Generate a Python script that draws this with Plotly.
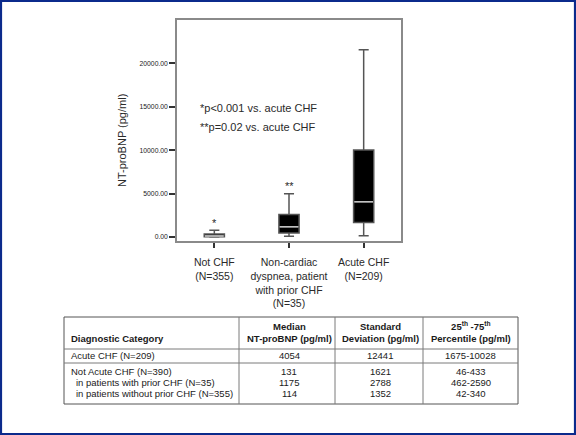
import plotly.graph_objects as go

# ---- box plot data (pg/ml) ----
groups = ["Not CHF<br>(N=355)",
          "Non-cardiac<br>dyspnea, patient<br>with prior CHF<br>(N=35)",
          "Acute CHF<br>(N=209)"]
q1 = [42, 462, 1675]
median = [114, 1175, 4054]
q3 = [340, 2590, 10028]
lower_whisker = [0, 80, 150]
upper_whisker = [770, 4990, 21550]
sig_marks = ["*", "**", ""]
sig_mark_y = [1650, 5870, None]

y_ticks = [0, 5000, 10000, 15000, 20000]

# ---- summary table ----
table_header = ["<b>Diagnostic Category</b>",
                "<b>Median</b><br><b>NT-proBNP (pg/ml)</b>",
                "<b>Standard</b><br><b>Deviation (pg/ml)</b>",
                "<b>25<sup>th</sup> -75<sup>th</sup></b><br><b>Percentile (pg/ml)</b>"]
table_categories = ["Acute CHF (N=209)",
                    "Not Acute CHF (N=390)",
                    "  in patients with prior CHF (N=35)",
                    "  in patients without prior CHF (N=355)"]
table_median = ["4054", "131", "1175", "114"]
table_sd = ["12441", "1621", "2788", "1352"]
table_iqr = ["1675-10028", "46-433", "462-2590", "42-340"]

W, H = 576, 435


def X(px):
    return px / W


def Y(py):
    return 1 - py / H


FONT = "Liberation Sans, Arial, sans-serif"
TXT = "#2a2a2a"
BOX_W = 0.27

fig = go.Figure()

fig.add_trace(go.Box(
    x=list(range(len(groups))),
    q1=q1, median=median, q3=q3,
    lowerfence=lower_whisker, upperfence=upper_whisker,
    width=BOX_W, whiskerwidth=0.5,
    fillcolor="black",
    line=dict(color="#555555", width=1.5),
    boxpoints=False, showlegend=False, hoverinfo="skip",
))

# lighter median bar drawn over each box
for i, m in enumerate(median):
    fig.add_trace(go.Scatter(
        x=[i - BOX_W / 2 + 0.01, i + BOX_W / 2 - 0.01], y=[m, m],
        mode="lines", line=dict(color="#c8c8c8", width=1.5),
        showlegend=False, hoverinfo="skip",
    ))

# significance marks above whiskers
for i, (s, yv) in enumerate(zip(sig_marks, sig_mark_y)):
    if s:
        fig.add_annotation(x=i, y=yv, xref="x", yref="y", text=s,
                           showarrow=False, font=dict(family=FONT, size=11, color=TXT))

fig.add_annotation(x=X(198), y=Y(108), xref="paper", yref="paper",
                   text="*p<0.001 vs. acute CHF", xanchor="left", yanchor="middle",
                   showarrow=False, font=dict(family=FONT, size=11, color=TXT))
fig.add_annotation(x=X(198), y=Y(127), xref="paper", yref="paper",
                   text="**p=0.02 vs. acute CHF", xanchor="left", yanchor="middle",
                   showarrow=False, font=dict(family=FONT, size=11, color=TXT))

# y-axis title
fig.add_annotation(x=X(122), y=Y(141), xref="paper", yref="paper",
                   text="NT-proBNP (pg/ml)", textangle=-90,
                   xanchor="center", yanchor="middle", showarrow=False,
                   font=dict(family=FONT, size=11, color=TXT))

# ---- table drawing ----
tbl_left, tbl_right = 64, 518
tbl_top, tbl_bottom = 317, 404
col_edges = [tbl_left, 239, 335, 423, tbl_right]
row_lines = [349, 363]
line_col = "#7a7a7a"

fig.add_shape(type="rect", xref="paper", yref="paper",
              x0=X(tbl_left), x1=X(tbl_right), y0=Y(tbl_bottom), y1=Y(tbl_top),
              line=dict(color="#555555", width=1))
for cx in col_edges[1:-1]:
    fig.add_shape(type="line", xref="paper", yref="paper",
                  x0=X(cx), x1=X(cx), y0=Y(tbl_bottom), y1=Y(tbl_top),
                  line=dict(color=line_col, width=1))
for ry in row_lines:
    fig.add_shape(type="line", xref="paper", yref="paper",
                  x0=X(tbl_left), x1=X(tbl_right), y0=Y(ry), y1=Y(ry),
                  line=dict(color=line_col, width=1))

TF = dict(family=FONT, size=9.5, color="#1a1a1a")
col_centers = [289, 380, 470.5]

# header
fig.add_annotation(x=X(69), y=Y(338), xref="paper", yref="paper",
                   text=table_header[0], xanchor="left", yanchor="middle",
                   showarrow=False, font=TF)
for cx, t in zip(col_centers, table_header[1:]):
    fig.add_annotation(x=X(cx), y=Y(332), xref="paper", yref="paper",
                       text=t, xanchor="center", yanchor="middle",
                       showarrow=False, font=TF)

# body rows
row_y = [355.5, 371.5, 382.5, 393.5]
for ry, cat, med, sd, iqr in zip(row_y, table_categories, table_median, table_sd, table_iqr):
    indent = 5 if cat.startswith("  ") else 0
    fig.add_annotation(x=X(69 + indent), y=Y(ry), xref="paper", yref="paper",
                       text=cat.strip(), xanchor="left", yanchor="middle",
                       showarrow=False, font=TF)
    for cx, t in zip(col_centers, [med, sd, iqr]):
        fig.add_annotation(x=X(cx), y=Y(ry), xref="paper", yref="paper",
                           text=t, xanchor="center", yanchor="middle",
                           showarrow=False, font=TF)

# slide frame
fig.add_shape(type="rect", xref="paper", yref="paper",
              x0=X(1), x1=X(575), y0=Y(434), y1=Y(1),
              line=dict(color="#0b2a8c", width=2.2))

fig.update_layout(
    width=W, height=H,
    margin=dict(l=0, r=0, t=0, b=0),
    paper_bgcolor="white", plot_bgcolor="white",
    font=dict(family=FONT, color=TXT),
    xaxis=dict(
        domain=[X(177), X(401)],
        range=[-0.5, 2.5],
        tickvals=list(range(len(groups))), ticktext=groups,
        ticks="outside", ticklen=5, tickcolor="#333333", tickwidth=1.5,
        ticklabelstandoff=6,
        tickfont=dict(family=FONT, size=10.5, color=TXT),
        showline=True, mirror=True, linecolor="#8a8a8a", linewidth=1.5,
        showgrid=False, zeroline=False, fixedrange=True,
    ),
    yaxis=dict(
        domain=[Y(241), Y(20)],
        range=[-460, 24990],
        tickvals=y_ticks, tickformat=".2f",
        ticks="outside", ticklen=6, tickcolor="#333333", tickwidth=1.5,
        tickfont=dict(family=FONT, size=6.8, color="#1a1a1a"),
        showline=True, mirror=True, linecolor="#8a8a8a", linewidth=1.5,
        showgrid=False, zeroline=False, fixedrange=True,
    ),
)

fig.write_html("out.html")
